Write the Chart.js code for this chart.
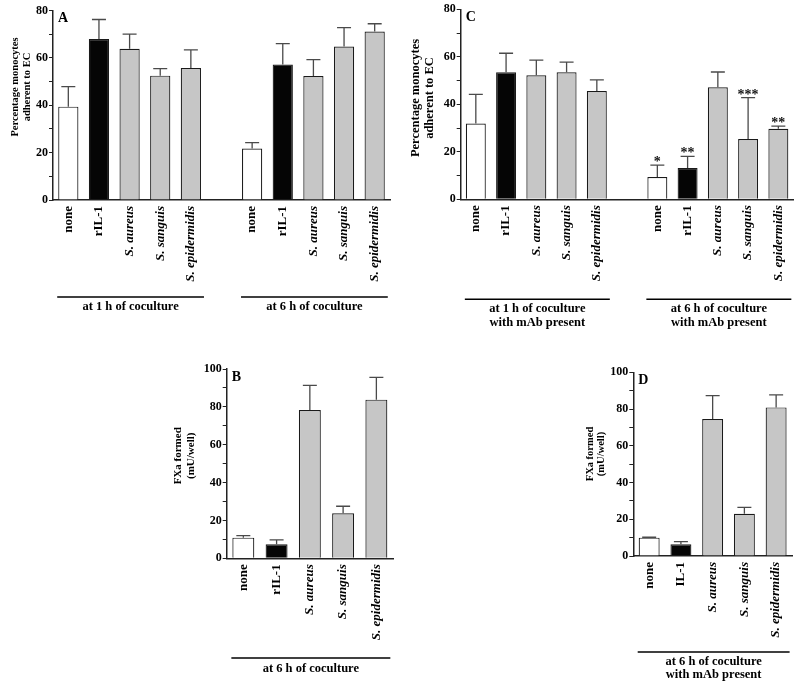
<!DOCTYPE html>
<html>
<head>
<meta charset="utf-8">
<script src="https://cdn.jsdelivr.net/npm/chart.js@4/dist/chart.umd.min.js"></script>
<style>
body { margin: 0; background: #fff; }
#page { position: relative; width: 800px; height: 686px; overflow: hidden; background: #fff; }
canvas { position: absolute; }
</style>
</head>
<body>
<div id="page">
<canvas id="panelA" width="400" height="340" style="left:0px;top:0px;width:400px;height:340px"></canvas>
<canvas id="panelC" width="400" height="340" style="left:400px;top:0px;width:400px;height:340px"></canvas>
<canvas id="panelB" width="270" height="346" style="left:130px;top:340px;width:270px;height:346px"></canvas>
<canvas id="panelD" width="220" height="346" style="left:580px;top:340px;width:220px;height:346px"></canvas>
</div>
<script>
// categories
const categories = ["none", "rIL-1", "S. aureus", "S. sanguis", "S. epidermidis"];
const categoriesD = ["none", "IL-1", "S. aureus", "S. sanguis", "S. epidermidis"];

// y tick labels
const adherenceTicks = [0, 20, 40, 60, 80];
const fxaTicks = [0, 20, 40, 60, 80, 100];

// panel A: % monocytes adherent (mean, SEM)
const adherence1h = [39.4, 68.0, 63.8, 52.5, 55.7];
const adherence1hSem = [8.5, 8.2, 6.2, 3.0, 7.7];
const adherence6h = [21.7, 57.2, 52.3, 64.8, 71.1];
const adherence6hSem = [2.5, 8.8, 7.0, 8.0, 3.3];

// panel C: same, with mAb present
const adherenceMab1h = [31.9, 53.5, 52.2, 53.5, 45.6];
const adherenceMab1hSem = [12.3, 8.0, 6.4, 4.3, 4.7];
const adherenceMab6h = [9.4, 13.2, 47.2, 25.4, 29.7];
const adherenceMab6hSem = [5.0, 4.9, 6.4, 17.4, 1.1];
const adherenceMab6hStars = ["*", "**", "", "***", "**"];

// panels B and D: FXa formed (mU/well)
const fxa6h = [10.9, 7.4, 78.3, 23.8, 83.8];
const fxa6hSem = [1.1, 2.3, 13.1, 3.7, 11.8];
const fxaMab6h = [10.0, 6.4, 74.6, 23.0, 80.9];
const fxaMab6hSem = [0.2, 1.4, 12.7, 3.5, 6.8];

const barColors = ["#ffffff", "#050505", "#c6c6c6", "#c6c6c6", "#c6c6c6"];
const serif = "'Liberation Serif', 'Times New Roman', serif";

function decorPlugin(p, values, sem, stars, groups) {
    return {
        id: "decor",
        afterDatasetsDraw(chart) {
            let ctx = chart.ctx;
            let yScale = chart.scales.y;
            let bars = chart.getDatasetMeta(0).data;
            let area = chart.chartArea;
            ctx.save();

            // error bars (upper only)
            ctx.strokeStyle = "#4a4a4a";
            ctx.lineWidth = 1.3;
            bars.forEach((bar, i) => {
                if (values[i] == null) return;
                let top = yScale.getPixelForValue(values[i] + sem[i]);
                ctx.beginPath();
                ctx.moveTo(bar.x, bar.y);
                ctx.lineTo(bar.x, top);
                ctx.moveTo(bar.x - 7, top);
                ctx.lineTo(bar.x + 7, top);
                ctx.stroke();
                if (stars[i]) {
                    ctx.fillStyle = "#111";
                    ctx.font = "bold 14px " + serif;
                    ctx.textAlign = "center";
                    ctx.textBaseline = "alphabetic";
                    ctx.fillText(stars[i], bar.x, top + 1);
                }
            });

            // group lines and captions
            ctx.fillStyle = "#000";
            ctx.strokeStyle = "#000";
            ctx.lineWidth = 1.5;
            ctx.font = "bold 12.5px " + serif;
            ctx.textAlign = "center";
            ctx.textBaseline = "middle";
            groups.forEach(g => {
                let first = bars[g.start];
                let last = bars[g.start + g.size - 1];
                let x1 = first.x - first.width / 2 - 1;
                let x2 = last.x + last.width / 2 + 3;
                ctx.beginPath();
                ctx.moveTo(x1, p.lineY);
                ctx.lineTo(x2, p.lineY);
                ctx.stroke();
                g.caption.forEach((line, k) => {
                    ctx.fillText(line, (x1 + x2) / 2, p.textY[k]);
                });
            });

            // panel letter
            ctx.font = "bold 14px " + serif;
            ctx.textAlign = "left";
            ctx.textBaseline = "top";
            ctx.fillText(p.letter, area.left + 5, area.top + 1);

            // y axis title
            ctx.font = "bold " + p.titleSize + "px " + serif;
            ctx.textAlign = "center";
            ctx.textBaseline = "middle";
            p.title.forEach((line, k) => {
                ctx.save();
                ctx.translate(p.titleX[k], p.titleY);
                ctx.rotate(-Math.PI / 2);
                ctx.fillText(line, 0, 0);
                ctx.restore();
            });
            ctx.restore();
        }
    };
}

function makePanel(id, p) {
    let labels = [];
    let values = [];
    let sem = [];
    let colors = [];
    let stars = [];
    let groups = [];
    p.groups.forEach((g, gi) => {
        if (gi > 0) {
            labels.push("");
            values.push(null);
            sem.push(null);
            colors.push("#ffffff");
            stars.push("");
        }
        groups.push({ start: labels.length, size: g.values.length, caption: g.caption });
        labels = labels.concat(p.cats);
        values = values.concat(g.values);
        sem = sem.concat(g.sem);
        colors = colors.concat(barColors);
        stars = stars.concat(g.stars || ["", "", "", "", ""]);
    });

    let tickFont = { family: serif, size: 12, weight: "bold" };
    let majors = p.ticks;

    new Chart(document.getElementById(id), {
        type: "bar",
        data: {
            labels: labels,
            datasets: [{
                data: values,
                backgroundColor: colors,
                borderColor: "#1a1a1a",
                borderWidth: 1.2,
                categoryPercentage: 1,
                barPercentage: 0.66
            }]
        },
        options: {
            responsive: false,
            animation: false,
            layout: {
                autoPadding: false,
                padding: { top: p.padTop, right: p.padRight, left: 0, bottom: 0 }
            },
            plugins: {
                legend: { display: false },
                tooltip: { enabled: false }
            },
            scales: {
                x: {
                    grid: { display: true, drawOnChartArea: false, drawTicks: false },
                    border: { color: "#222", width: 1.5 },
                    ticks: {
                        autoSkip: false,
                        minRotation: 90,
                        maxRotation: 90,
                        padding: 6,
                        color: "#000",
                        font: function (c) {
                            let lbl = c.tick ? String(c.tick.label) : "";
                            return {
                                family: serif,
                                size: 13,
                                weight: "bold",
                                style: lbl.startsWith("S.") ? "italic" : "normal"
                            };
                        }
                    },
                    afterFit: function (s) { s.height = p.xHeight; }
                },
                y: {
                    min: 0,
                    max: majors[majors.length - 1],
                    grid: { drawOnChartArea: false, tickLength: 4, color: "#222" },
                    border: { color: "#222", width: 1.5 },
                    ticks: {
                        stepSize: 10,
                        padding: 1,
                        color: "#000",
                        font: tickFont,
                        callback: v => majors.includes(v) ? v : ""
                    },
                    afterFit: function (s) { s.width = p.yWidth; }
                }
            }
        },
        plugins: [decorPlugin(p, values, sem, stars, groups)]
    });
}

window.onload = function () {
    makePanel("panelA", {
        letter: "A",
        cats: categories,
        ticks: adherenceTicks,
        padTop: 10.5, padRight: 10, yWidth: 53, xHeight: 140,
        title: ["Percentage monocytes", "adherent to EC"],
        titleSize: 10.5, titleX: [15.7, 27.3], titleY: 87,
        lineY: 297, textY: [307],
        groups: [
            { values: adherence1h, sem: adherence1hSem, caption: ["at 1 h of coculture"] },
            { values: adherence6h, sem: adherence6hSem, caption: ["at 6 h of coculture"] }
        ]
    });

    makePanel("panelC", {
        letter: "C",
        cats: categories,
        ticks: adherenceTicks,
        padTop: 9.3, padRight: 1, yWidth: 60.7, xHeight: 140.7,
        title: ["Percentage monocytes", "adherent to EC"],
        titleSize: 12.5, titleX: [15.7, 30], titleY: 98,
        lineY: 299.3, textY: [309, 323],
        groups: [
            { values: adherenceMab1h, sem: adherenceMab1hSem, caption: ["at 1 h of coculture", "with mAb present"] },
            { values: adherenceMab6h, sem: adherenceMab6hSem, stars: adherenceMab6hStars, caption: ["at 6 h of coculture", "with mAb present"] }
        ]
    });

    makePanel("panelB", {
        letter: "B",
        cats: categories,
        ticks: fxaTicks,
        padTop: 29, padRight: 7, yWidth: 96.7, xHeight: 127.7,
        title: ["FXa formed", "(mU/well)"],
        titleSize: 11, titleX: [48, 60.7], titleY: 115.8,
        lineY: 318, textY: [328.7],
        groups: [
            { values: fxa6h, sem: fxa6hSem, caption: ["at 6 h of coculture"] }
        ]
    });

    makePanel("panelD", {
        letter: "D",
        cats: categoriesD,
        ticks: fxaTicks,
        padTop: 32.3, padRight: 8, yWidth: 53.3, xHeight: 130,
        title: ["FXa formed", "(mU/well)"],
        titleSize: 10.5, titleX: [10.7, 21.7], titleY: 114,
        lineY: 312, textY: [322, 335],
        groups: [
            { values: fxaMab6h, sem: fxaMab6hSem, caption: ["at 6 h of coculture", "with mAb present"] }
        ]
    });
};
</script>
</body>
</html>
